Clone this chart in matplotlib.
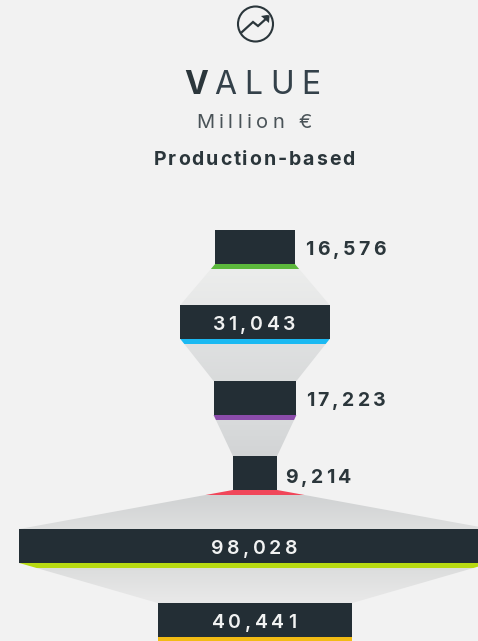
import matplotlib
matplotlib.use("Agg")
import matplotlib.pyplot as plt
import numpy as np
from matplotlib.colors import LinearSegmentedColormap
from matplotlib.patches import Circle, Polygon, Rectangle
from matplotlib.text import Text
from matplotlib.transforms import IdentityTransform

# ---- data ----
values = [16576, 31043, 17223, 9214, 98028, 40441]
labels = ["16,576", "31,043", "17,223", "9,214", "98,028", "40,441"]
strip_colors = ["#5cb83c", "#1bb9f2", "#8b4cab", "#f0465a", "#b8da12", "#f2bb14"]
label_inside = [False, True, False, False, True, True]
link_top = ["#ecedec", "#dfe0e1", "#d9dbdc", "#d0d2d3", "#dcdddd"]
link_bot = ["#e7e8e8", "#d9dbdb", "#d2d4d5", "#dedfdf", "#e9e9e9"]

# ---- layout (pixel-like vertical scale) ----
W, H = 478, 641
CX = 255
K = 0.00481                # px of width per million euro
TOPS = [230, 305, 381, 456, 529, 603]
LABEL_Y = [248, 323, 399, 476, 547, 621]
LABEL_X = [305, 254, 306, 285, 254, 254]
BAR_H = 34
STRIP_H = 5
BG = "#f2f2f2"
DARK = "#232e35"
INK = "#2b363b"
FONT = "Inter"


class SpacedText(Text):
    """Text with extra letter spacing (px); keeps the whole string as its text."""

    def __init__(self, *a, spacing=0, **k):
        super().__init__(*a, **k)
        self._spacing = spacing

    def draw(self, renderer):
        s = self.get_text()
        fp = self.get_fontproperties()
        wid = lambda t: renderer.get_text_width_height_descent(t, fp, False)[0] if t else 0
        total = wid(s) + self._spacing * (len(s) - 1)
        x, y = self.get_transform().transform(self.get_position())
        ha = self.get_ha()
        x0 = x - total / 2 if ha == "center" else (x - total if ha == "right" else x)
        for i, ch in enumerate(s):
            px = x0 + wid(s[:i + 1]) - wid(ch) + self._spacing * i
            t = Text(px, y, ch, color=self.get_color(), fontproperties=fp,
                     ha="left", va=self.get_va(), transform=IdentityTransform())
            t.set_figure(self.get_figure())
            t.draw(renderer)


def stext(x, y, s, spacing, **kw):
    t = SpacedText(x, y, s, spacing=spacing, transform=ax.transData,
                   family=FONT, va="center_baseline", **kw)
    ax.add_artist(t)
    return t


fig = plt.figure(figsize=(W / 100, H / 100), dpi=100, facecolor=BG)
ax = fig.add_axes([0, 0, 1, 1])
ax.set_facecolor(BG)
ax.axis("off")
to_val = lambda px: (px - CX) / K
xlim = (to_val(0), to_val(W))
ylim = (H, 0)

for i, v in enumerate(values):
    half = v / 2
    top = TOPS[i]
    bot = top + BAR_H
    ax.add_patch(Rectangle((-half, top), v, BAR_H, fc=DARK, ec="none", zorder=3))

    if i + 1 < len(values):
        nxt = values[i + 1] / 2
        y1 = TOPS[i + 1]
        at = lambda y: half + (nxt - half) * (y - bot) / (y1 - bot)
        ys = bot + STRIP_H
        poly = Polygon([(-at(ys), ys), (at(ys), ys), (nxt, y1), (-nxt, y1)],
                       closed=True, fc="none", ec="none", transform=ax.transData)
        ax.add_patch(poly)
        cmap = LinearSegmentedColormap.from_list("g", [link_top[i], link_bot[i]])
        im = ax.imshow(np.linspace(0, 1, 64)[:, None], cmap=cmap, aspect="auto",
                       extent=(-max(at(ys), nxt), max(at(ys), nxt), y1, ys), zorder=1)
        im.set_clip_path(poly)
        ax.add_patch(Polygon([(-half, bot), (half, bot), (at(ys), ys), (-at(ys), ys)],
                             closed=True, fc=strip_colors[i], ec="none", zorder=2))
    else:
        ax.add_patch(Rectangle((-half, bot), v, STRIP_H, fc=strip_colors[i], ec="none", zorder=2))

    if label_inside[i]:
        stext(to_val(LABEL_X[i]), LABEL_Y[i], labels[i], 3.6, color="#f1f2f2", fontsize=14,
              fontweight="semibold", ha="center", zorder=5)
    else:
        stext(to_val(LABEL_X[i]), LABEL_Y[i], labels[i], 3.3, color=INK, fontsize=14,
              fontweight="bold", ha="left", zorder=5)

ax.set_xlim(*xlim)
ax.set_ylim(*ylim)

# ---- header ----
stext(to_val(184), 82, "V", 0, color=INK, fontsize=23, fontweight="bold", ha="left")
stext(to_val(214), 82, "ALUE", 8, color="#34414a", fontsize=23, fontweight="normal", ha="left")
stext(to_val(254), 121, "Million €", 4.4, color="#4a5358", fontsize=14.5, ha="center")
stext(to_val(254), 158, "Production-based", 1.9, color=INK, fontsize=14,
      fontweight="bold", ha="center")

# ---- icon (drawn in pixel coordinates) ----
pix = ax.inset_axes([0, 0, 1, 1])
pix.set_xlim(0, W)
pix.set_ylim(H, 0)
pix.axis("off")
pix.patch.set_alpha(0)
pix.set_aspect("equal")
pix.add_patch(Circle((255.5, 24), 17.5, fc="none", ec=INK, lw=1.5))
pix.plot([242, 253, 258, 268], [32, 22, 26, 17], color=INK, lw=1.6, solid_joinstyle="miter")
pix.add_patch(Polygon([(267, 15), (269.5, 15.5), (269, 23), (261, 16)], closed=True, fc=INK, ec="none"))

fig.savefig("out.png", dpi=100, facecolor=BG)
